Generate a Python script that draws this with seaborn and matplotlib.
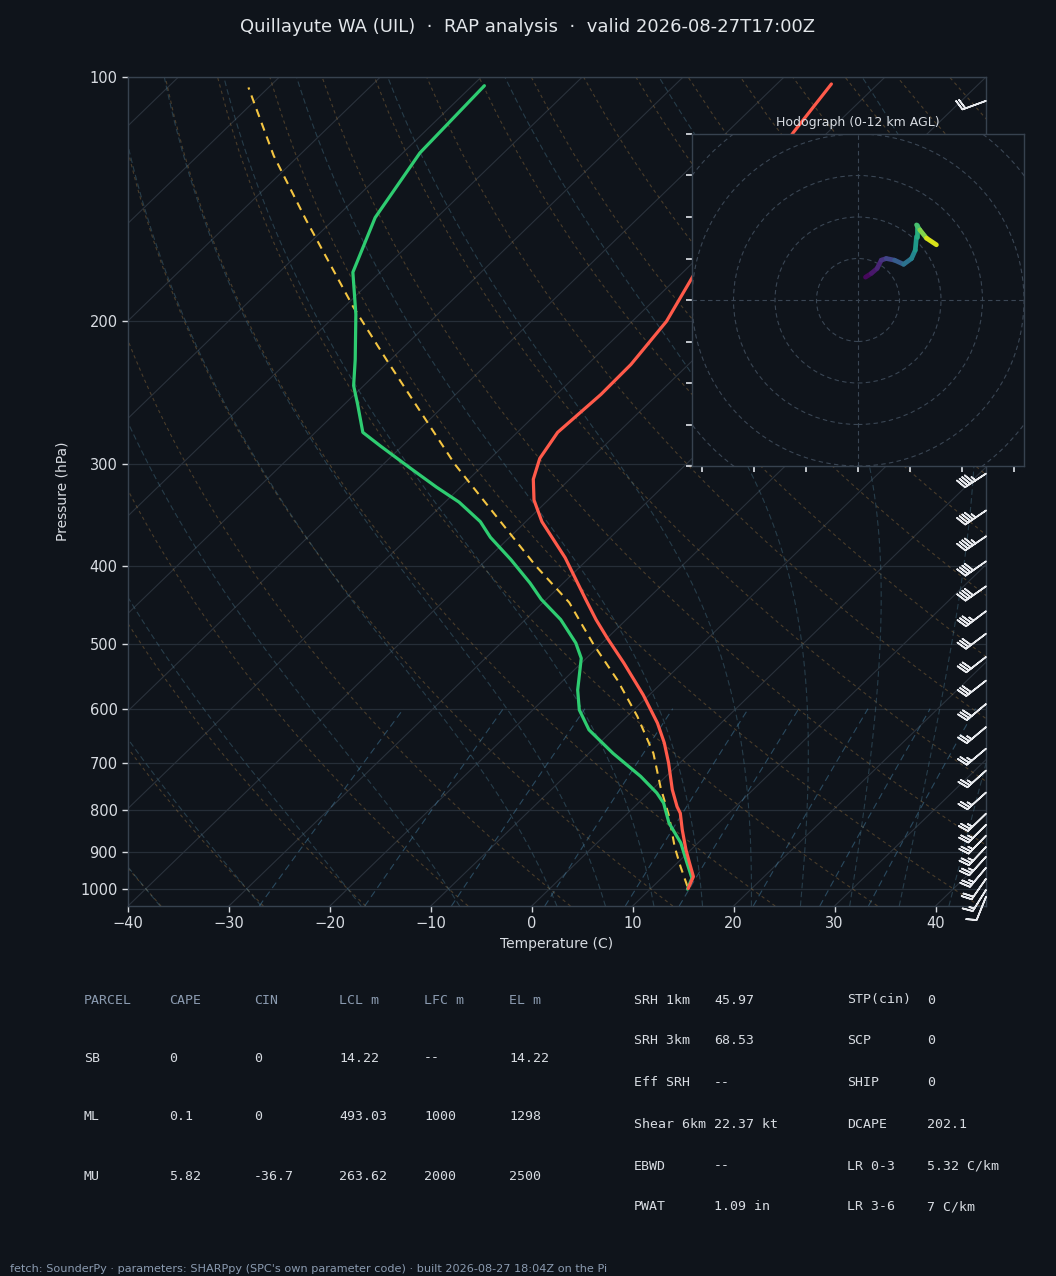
import numpy as np
import matplotlib
matplotlib.use("Agg")
import matplotlib.pyplot as plt
import matplotlib.transforms as mtransforms
from matplotlib.collections import LineCollection
from matplotlib.patches import Circle
from matplotlib.ticker import FixedLocator, NullLocator, MultipleLocator, FormatStrFormatter
import seaborn as sns

# ---- sounding (hPa, degC) ----
t_pres = [999, 966, 929, 895, 846, 807, 792, 755, 700, 661, 625, 577, 527, 491, 466,
          440, 391, 353, 332, 313, 295, 274, 246, 226, 200, 176, 117, 102]
t_temp = [13.7, 13.0, 11.2, 9.5, 7.1, 5.2, 4.2, 2.0, -1.1, -3.6, -6.3, -10.6, -15.8, -20.0, -23.0,
          -26.1, -32.4, -38.4, -41.4, -43.6, -45.1, -46.0, -45.6, -45.7, -46.6, -48.6, -53.4, -54.6]

td_pres = [1001, 970, 930, 878, 830, 784, 762, 727, 681, 637, 602, 569, 520, 498, 466, 440,
           420, 393, 369, 353, 334, 320, 303, 285, 274, 253, 240, 223, 196, 174, 149, 124, 102.5]
td_temp = [13.7, 13.0, 11.0, 8.3, 5.1, 2.5, 0.8, -2.5, -7.6, -12.4, -15.4, -17.6, -20.5, -22.6, -26.5, -30.5,
           -33.3, -37.6, -41.9, -44.5, -48.6, -52.4, -57.0, -62.1, -65.3, -68.7, -71.0, -73.5, -78.1, -82.7, -86.1, -88.3, -88.8]

parcel_pres = [993, 939, 888, 814, 750, 681, 613, 553, 500, 470, 444, 400, 300, 223, 192, 150, 125, 103]
parcel_temp = [13.4, 10.7, 8.1, 4.4, 0.6, -3.6, -9.0, -14.7, -20.7, -24.2, -27.4, -34.5, -52.9, -70.4,
               -79.1, -92.7, -102.5, -112.0]

# wind barbs (hPa, deg, kt)
barb_pres = [1023, 1003, 972, 942, 913, 888, 860, 834, 808, 761, 715, 672, 632, 592, 554,
             518, 485, 455, 424, 395, 368, 342, 308, 107]
barb_dir = [202, 212, 215, 220, 222, 223, 224, 225, 226, 228, 228, 230, 230, 230, 232,
            232, 233, 233, 235, 235, 236, 236, 237, 250]
barb_spd = [10, 15, 20, 25, 25, 25, 25, 25, 25, 25, 25, 25, 25, 30, 30,
            30, 30, 35, 40, 40, 45, 45, 45, 20]

# hodograph
hodo_z = [0, 0.5, 1, 1.5, 2, 3, 4, 5, 6, 7, 8, 9, 10.5, 12]
hodo_u = [1.8, 3.2, 4.6, 5.6, 6.8, 8.8, 11.0, 12.9, 13.8, 14.1, 14.1, 14.9, 16.5, 18.9]
hodo_v = [5.5, 6.4, 7.6, 9.6, 10.0, 9.6, 8.6, 10.0, 12.0, 15.3, 18.1, 16.9, 14.9, 13.3]

# parameter tables
parcel_head = ["PARCEL", "CAPE", "CIN", "LCL m", "LFC m", "EL m"]
parcel_rows = [["SB", "0", "0", "14.22", "--", "14.22"],
               ["ML", "0.1", "0", "493.03", "1000", "1298"],
               ["MU", "5.82", "-36.7", "263.62", "2000", "2500"]]
kin_names = ["SRH 1km", "SRH 3km", "Eff SRH", "Shear 6km", "EBWD", "PWAT"]
kin_vals = ["45.97", "68.53", "--", "22.37 kt", "--", "1.09 in"]
idx_names = ["STP(cin)", "SCP", "SHIP", "DCAPE", "LR 0-3", "LR 3-6"]
idx_vals = ["0", "0", "0", "202.1", "5.32 C/km", "7 C/km"]

title = "Quillayute WA (UIL)  \u00b7  RAP analysis  \u00b7  valid 2026-08-27T17:00Z"
footer = ("fetch: SounderPy \u00b7 parameters: SHARPpy (SPC's own parameter code) \u00b7 "
          "built 2026-08-27 18:04Z on the Pi")

BG = "#0f141b"
TEXT = "#d8dce2"
SUB = "#8b9bb0"
SPINE = "#37424f"
GRID = "#262e38"

sns.set_theme(style="dark", rc={
    "figure.facecolor": BG, "axes.facecolor": BG, "axes.edgecolor": SPINE,
    "text.color": TEXT, "axes.labelcolor": TEXT, "xtick.color": TEXT, "ytick.color": TEXT,
    "xtick.bottom": True, "ytick.left": True, "axes.linewidth": 1.0,
})
plt.rcParams["font.family"] = ["DejaVu Sans"]

fig = plt.figure(figsize=(10.56, 12.76), dpi=100)
ax = fig.add_axes([128 / 1056, 1 - 906 / 1276, 858 / 1056, 829 / 1276])
ax.set_yscale("log")
ax.set_xlim(-40, 45)
ax.set_ylim(1050, 100)
ax.set_autoscale_on(False)
skew = ax.transScale + ax.transLimits + mtransforms.Affine2D().skew_deg(45, 0) + ax.transAxes

# ---- background lines ----
p_line = np.linspace(1050, 100, 80)
for t in range(-120, 50, 10):
    ax.plot([t, t], [1050, 100], transform=skew, color="#2a323c", lw=0.8, zorder=1)

for t0 in np.arange(-40, 246, 10):
    tk = (t0 + 273.15) * (p_line / 1000.0) ** 0.2857 - 273.15
    ax.plot(tk, p_line, transform=skew, color="#a07840", alpha=0.4, lw=0.8,
            ls=(0, (3, 3)), zorder=1)

RD, CP, LV, EPS = 287.04, 1005.7, 2.501e6, 0.622


def sat_mr(p, tk):
    tc = tk - 273.15
    es = 6.112 * np.exp(17.67 * tc / (tc + 243.5))
    return EPS * es / (p - es)


def dtdp(p, tk):
    rs = sat_mr(p, tk)
    return (RD * tk + LV * rs) / (CP + LV * LV * rs * EPS / (RD * tk * tk)) / p


def integrate(t0k, pres):
    out = [t0k]
    tk = t0k
    for p0, p1 in zip(pres[:-1], pres[1:]):
        h = p1 - p0
        k1 = dtdp(p0, tk)
        k2 = dtdp(p0 + h / 2, tk + h / 2 * k1)
        k3 = dtdp(p0 + h / 2, tk + h / 2 * k2)
        k4 = dtdp(p1, tk + h * k3)
        tk = tk + h / 6 * (k1 + 2 * k2 + 2 * k3 + k4)
        out.append(tk)
    return np.array(out)


moist_t0 = np.concatenate((np.arange(-40, 0, 10), np.arange(0, 96, 5))) + 273.15
p_up = np.geomspace(1000, 100, 240)
p_dn = np.geomspace(1000, 1050, 8)
with np.errstate(all="ignore"):
    t_up = integrate(moist_t0, p_up)
    t_dn = integrate(moist_t0, p_dn)
p_moist = np.concatenate((p_dn[::-1], p_up[1:]))
t_moist = np.concatenate((t_dn[::-1], t_up[1:])) - 273.15
for i in range(len(moist_t0)):
    ax.plot(t_moist[:, i], p_moist, transform=skew, color="#4a7a90", alpha=0.4, lw=0.8,
            ls=(0, (5, 3)), zorder=1)

mix_w = [0.0004, 0.001, 0.002, 0.004, 0.007, 0.01, 0.016, 0.024, 0.032]
p_mix = np.linspace(1050, 600, 30)
for w in mix_w:
    e = p_mix * w / (EPS + w)
    lg = np.log(e / 6.112)
    td = 243.5 * lg / (17.67 - lg)
    ax.plot(td, p_mix, transform=skew, color="#4a8ab0", alpha=0.45, lw=0.8,
            ls=(0, (6, 4)), zorder=1)

# ---- profiles ----
sns.lineplot(x=parcel_temp, y=parcel_pres, sort=False, estimator=None, ax=ax, transform=skew,
             color="#f4c542", lw=1.5, ls=(0, (4, 3)), zorder=3, legend=False)
sns.lineplot(x=td_temp, y=td_pres, sort=False, estimator=None, ax=ax, transform=skew,
             color="#2ecc71", lw=2.3, zorder=4, legend=False)
sns.lineplot(x=t_temp, y=t_pres, sort=False, estimator=None, ax=ax, transform=skew,
             color="#ff5a4a", lw=2.3, zorder=5, legend=False)

# ---- wind barbs on right edge ----
wd = np.deg2rad(barb_dir)
bu = -np.array(barb_spd) * np.sin(wd)
bv = -np.array(barb_spd) * np.cos(wd)
bt = mtransforms.blended_transform_factory(ax.transAxes, ax.transData)
ax.barbs(np.ones(len(barb_pres)), barb_pres, bu, bv, transform=bt, length=6,
         color="#e8eaee", lw=1.2, clip_on=False, zorder=6)

ax.set_xlim(-40, 45)
ax.set_ylim(1050, 100)
ax.yaxis.set_major_locator(FixedLocator([100, 200, 300, 400, 500, 600, 700, 800, 900, 1000]))
ax.yaxis.set_major_formatter(FormatStrFormatter("%d"))
ax.yaxis.set_minor_locator(NullLocator())
ax.xaxis.set_major_locator(MultipleLocator(10))
ax.grid(True, axis="y", color=GRID, lw=0.9)
ax.grid(False, axis="x")
ax.tick_params(labelsize=10.5, length=4, width=1)
ax.set_xlabel("Temperature (C)", fontsize=10)
ax.set_ylabel("Pressure (hPa)", fontsize=10, labelpad=8)
for s in ax.spines.values():
    s.set_color(SPINE)

# ---- hodograph inset ----
hx = fig.add_axes([692 / 1056, 1 - 466 / 1276, 332 / 1056, 332 / 1276])
hx.set_facecolor(BG)
hx.set_xlim(-40, 40)
hx.set_ylim(-40, 40)
for r in [10, 20, 30, 40, 50, 60]:
    hx.add_patch(Circle((0, 0), r, fill=False, ec="#3a4654", lw=0.8, ls=(0, (4, 3))))
hx.axhline(0, color="#3a4654", lw=0.8, ls=(0, (4, 3)))
hx.axvline(0, color="#3a4654", lw=0.8, ls=(0, (4, 3)))
pts = np.column_stack([hodo_u, hodo_v])
segs = np.stack([pts[:-1], pts[1:]], axis=1)
lc = LineCollection(segs, cmap="viridis", norm=plt.Normalize(0, 12), lw=3.4, capstyle="round")
lc.set_array((np.array(hodo_z[:-1]) + np.array(hodo_z[1:])) / 2)
hx.add_collection(lc)
hx.set_xticks([-37.5, -25, -12.5, 0, 12.5, 25, 37.5])
hx.set_yticks(np.arange(-40, 41, 10))
hx.tick_params(labelbottom=False, labelleft=False, length=4, color=TEXT)
hx.grid(False)
for s in hx.spines.values():
    s.set_color(SPINE)
hx.set_title("Hodograph (0-12 km AGL)", fontsize=9, color=TEXT, pad=6)

# ---- texts ----
fig.text(0.5, 1 - 27 / 1276, title, ha="center", va="center", fontsize=13, color="#e2e6ea")

mono = "DejaVu Sans Mono"
col_x = [84, 169, 254, 339, 424, 509]
row_y = [1000, 1058, 1117, 1176]
for cx, h in zip(col_x, parcel_head):
    fig.text(cx / 1056, 1 - row_y[0] / 1276, h, family=mono, fontsize=9.5, color=SUB, va="center")
for ry, row in zip(row_y[1:], parcel_rows):
    for cx, val in zip(col_x, row):
        fig.text(cx / 1056, 1 - ry / 1276, val, family=mono, fontsize=9.5, color=TEXT, va="center")

kin_y = [1000, 1041, 1083, 1124, 1166, 1207]
for ky, n1, v1, n2, v2 in zip(kin_y, kin_names, kin_vals, idx_names, idx_vals):
    fy = 1 - ky / 1276
    fig.text(634 / 1056, fy, n1, family=mono, fontsize=9.5, color=TEXT, va="center")
    fig.text(714 / 1056, fy, v1, family=mono, fontsize=9.5, color=TEXT, va="center")
    fig.text(847 / 1056, fy, n2, family=mono, fontsize=9.5, color=TEXT, va="center")
    fig.text(927 / 1056, fy, v2, family=mono, fontsize=9.5, color=TEXT, va="center")

fig.text(10 / 1056, 1 - 1269 / 1276, footer, fontsize=8.1, color=SUB, va="center")

fig.savefig("out.png", dpi=100, facecolor=BG)
